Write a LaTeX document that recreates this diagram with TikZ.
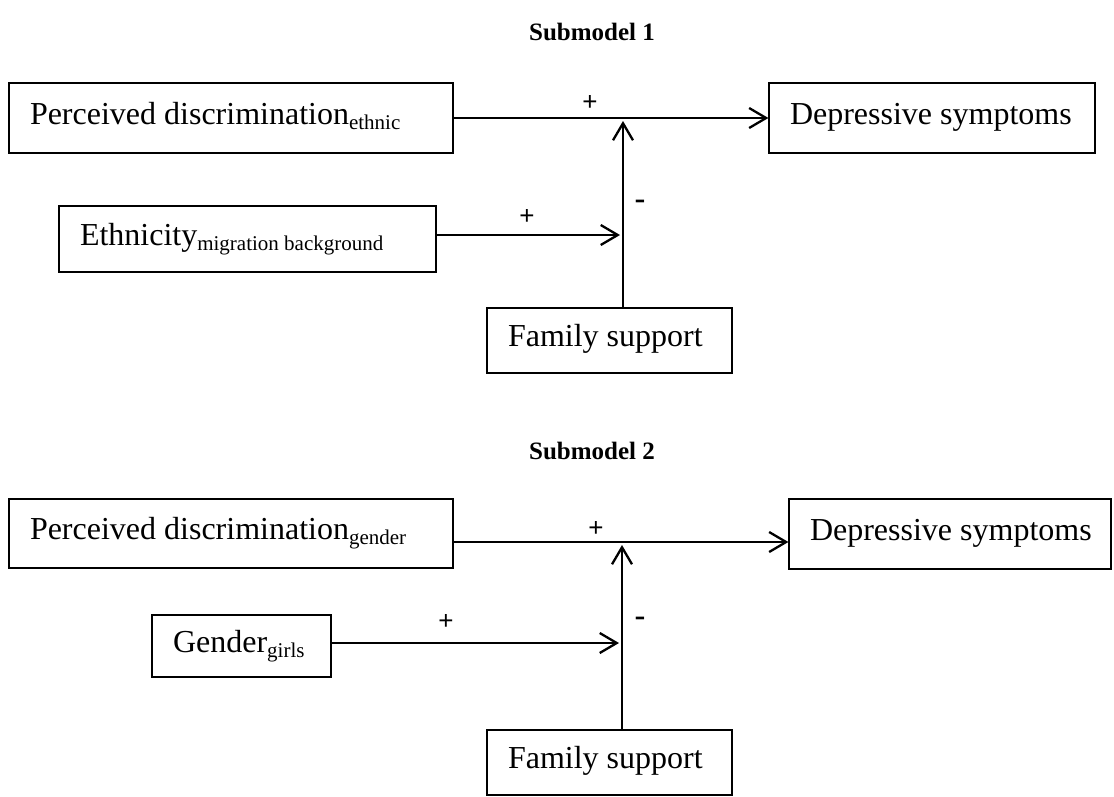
\documentclass[tikz,border=0pt]{standalone}
\usepackage{fontspec}
\setmainfont{Liberation Serif}
\newfontfamily\signfont{Liberation Sans}
\usetikzlibrary{arrows.meta}
\newcommand\subtxt[1]{\raisebox{-5pt}{\fontsize{21}{24}\selectfont #1}}
\newcommand\boxtxt[2]{\makebox[#1][l]{#2}}
\begin{document}
\begin{tikzpicture}[x=1pt,y=-1pt,
  box/.style={draw, line width=1.2pt, rectangle, inner xsep=21pt, inner ysep=0pt,
    text height=22pt, text depth=10pt, font=\fontsize{32}{38}\selectfont},
  arr/.style={line width=2.3pt, -{Straight Barb[length=17pt,width=20pt,line width=2.3pt]}},
  sign/.style={font=\signfont\fontsize{26}{30}\selectfont, inner sep=0pt},
  minus/.style={font=\signfont\fontsize{34}{38}\selectfont, inner sep=0pt},
  titlebox/.style={font=\bfseries\fontsize{25}{30}\selectfont, inner sep=0pt}]
\useasboundingbox (0,0) rectangle (1114,796);

% Submodel 1
\node[titlebox] (t1) at (592,32) {Submodel 1};
\node[box, minimum height=70pt] (a1) at (231,118) {\boxtxt{402pt}{Perceived discrimination\subtxt{ethnic}}};
\node[box, minimum height=70pt] (d1) at (932,118) {\boxtxt{284pt}{Depressive symptoms}};
\node[box, minimum height=66pt] (e1) at (247.5,239) {\boxtxt{335pt}{Ethnicity\subtxt{migration background}}};
\node[box, minimum height=65pt] (f1) at (609.5,340.5) {\boxtxt{203pt}{Family support}};

\coordinate (j1) at (623,121);
\coordinate (k1) at (620,235);
\draw[arr] (a1) -- (d1);
\draw[arr] (f1.north -| j1) -- (j1);
\draw[arr] (e1.east |- k1) -- (k1);

\node[sign] (p1) at (590,103) {+};
\node[sign] (p2) at (527,217) {+};
\node[minus] (n1) at (640,205) {-};

% Submodel 2
\node[titlebox] (t2) at (592,451) {Submodel 2};
\node[box, minimum height=69pt] (a2) at (231,533.5) {\boxtxt{402pt}{Perceived discrimination\subtxt{gender}}};
\node[box, minimum height=70pt] (d2) at (950,534) {\boxtxt{280pt}{Depressive symptoms}};
\node[box, minimum height=62pt] (g2) at (241.5,646) {\boxtxt{137pt}{Gender\subtxt{girls}}};
\node[box, minimum height=65pt] (f2) at (609.5,762.5) {\boxtxt{203pt}{Family support}};

\coordinate (m2) at (622,542);
\coordinate (j2) at (622,545);
\coordinate (k2) at (619,643);
\draw[arr] (a2.east |- m2) -- (d2.west |- m2);
\draw[arr] (f2.north -| j2) -- (j2);
\draw[arr] (g2.east |- k2) -- (k2);

\node[sign] (p3) at (596,529) {+};
\node[sign] (p4) at (446,622) {+};
\node[minus] (n2) at (640,622) {-};
\end{tikzpicture}
\end{document}
